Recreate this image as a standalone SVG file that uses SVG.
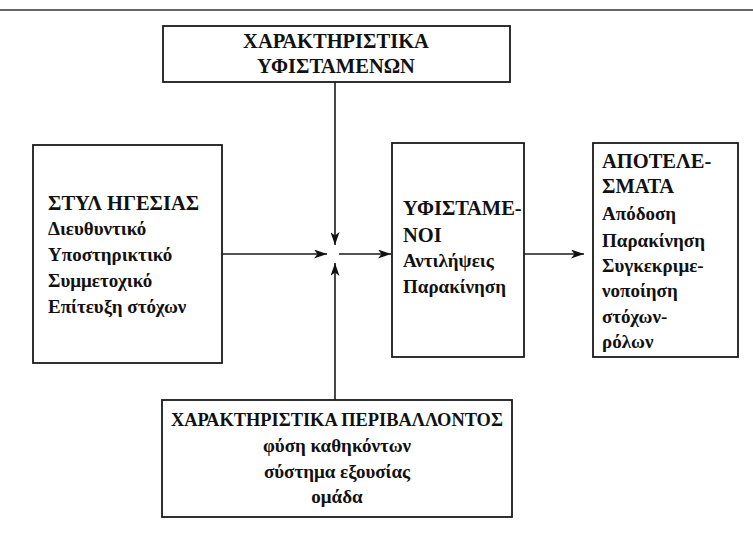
<svg xmlns="http://www.w3.org/2000/svg" width="753" height="533" viewBox="0 0 753 533">
<defs>
<style>
.box{fill:#fff;stroke:#1a1a1a;stroke-width:1.8}
.t{font-family:"Liberation Serif","Times New Roman",serif;font-weight:bold;fill:#111;font-size:19px}
.h{font-size:20.5px}
.c{text-anchor:middle}
.conn line{stroke:#1a1a1a;stroke-width:1.6}
</style>
<marker id="ah" viewBox="0 0 13 9" refX="13" refY="4.5" markerWidth="13" markerHeight="9" markerUnits="userSpaceOnUse" orient="auto">
<path d="M0,0 L13,4.5 L0,9 L3.5,4.5 z" fill="#111"/>
</marker>
</defs>
<rect width="753" height="533" fill="#fff"/>
<line x1="0" y1="10" x2="753" y2="10" stroke="#333" stroke-width="1.6"/>

<g id="conn" class="conn">
<line x1="335" y1="82" x2="335" y2="245" marker-end="url(#ah)"/>
<line x1="222" y1="254" x2="327" y2="254" marker-end="url(#ah)"/>
<line x1="335" y1="400" x2="335" y2="263" marker-end="url(#ah)"/>
<line x1="339" y1="254" x2="391" y2="254" marker-end="url(#ah)"/>
<line x1="524" y1="254" x2="584" y2="254" marker-end="url(#ah)"/>
</g>

<g id="top">
<rect class="box" x="163" y="26" width="347" height="56"/>
<text class="t c h" x="336" y="48">ΧΑΡΑΚΤΗΡΙΣΤΙΚΑ</text>
<text class="t c h" x="336" y="73">ΥΦΙΣΤΑΜΕΝΩΝ</text>
</g>

<g id="left">
<rect class="box" x="33" y="145" width="189" height="218"/>
<text class="t h" x="48" y="210">ΣΤΥΛ ΗΓΕΣΙΑΣ</text>
<text class="t" x="48" y="235">Διευθυντικό</text>
<text class="t" x="48" y="261">Υποστηρικτικό</text>
<text class="t" x="48" y="287">Συμμετοχικό</text>
<text class="t" x="48" y="313">Επίτευξη στόχων</text>
</g>

<g id="middle">
<rect class="box" x="392" y="143" width="132" height="214"/>
<text class="t h" x="403" y="215">ΥΦΙΣΤΑΜΕ-</text>
<text class="t h" x="403" y="242">ΝΟΙ</text>
<text class="t" x="403" y="267">Αντιλήψεις</text>
<text class="t" x="403" y="293">Παρακίνηση</text>
</g>

<g id="right">
<rect class="box" x="593" y="143" width="145" height="214"/>
<text class="t h" x="602" y="168">ΑΠΟΤΕΛΕ-</text>
<text class="t h" x="602" y="193">ΣΜΑΤΑ</text>
<text class="t" x="602" y="220">Απόδοση</text>
<text class="t" x="602" y="247">Παρακίνηση</text>
<text class="t" x="602" y="272">Συγκεκριμε-</text>
<text class="t" x="602" y="297">νοποίηση</text>
<text class="t" x="602" y="323">στόχων-</text>
<text class="t" x="602" y="348">ρόλων</text>
</g>

<g id="bottom">
<rect class="box" x="162" y="400" width="350" height="117"/>
<text class="t c" x="337" y="426" style="font-size:18.4px">ΧΑΡΑΚΤΗΡΙΣΤΙΚΑ ΠΕΡΙΒΑΛΛΟΝΤΟΣ</text>
<text class="t c" x="337" y="452">φύση καθηκόντων</text>
<text class="t c" x="337" y="478">σύστημα εξουσίας</text>
<text class="t c" x="337" y="503">ομάδα</text>
</g>
</svg>
